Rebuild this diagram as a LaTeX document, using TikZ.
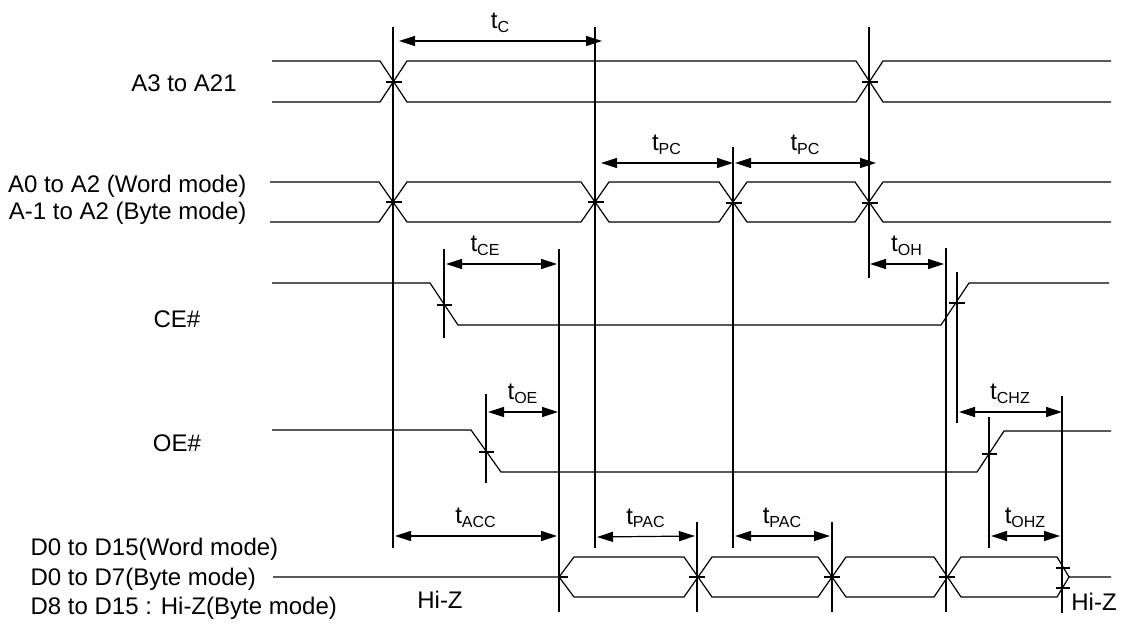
\documentclass[tikz,border=0pt]{standalone}
\usepackage{fontspec}
\setmainfont{Liberation Sans}
\usetikzlibrary{arrows.meta}
\newcommand{\tsub}[1]{t\textsubscript{#1}}

\begin{document}
\begin{tikzpicture}[x=0.5pt, y=-0.5pt, line width=0.6pt,
    wave/.style={line join=miter},
    dim/.style={{Triangle[length=8pt,width=5pt]}-{Triangle[length=8pt,width=5pt]}},
    sig/.style={font=\fontsize{12}{14}\selectfont, inner sep=0pt},
    tlab/.style={font=\fontsize{12}{14}\selectfont, midway, above=3pt, inner sep=1pt}]
      \useasboundingbox (0,0) rectangle (1127,624);

      \node[sig] (a3) at (184,83) {A3 to A21};
      \node[sig, anchor=east] (a0w) at (247,186) {A0 to A2 (Word mode)};
      \node[sig, anchor=east] (a0b) at (247,213) {A-1 to A2 (Byte mode)};
      \node[sig] (ce) at (177,319) {CE\#};
      \node[sig] (oe) at (177,443) {OE\#};
      \node[sig, anchor=west] (dw) at (30,549) {D0 to D15(Word mode)};
      \node[sig, anchor=west] (db) at (30,579) {D0 to D7(Byte mode)};
      \node[sig, anchor=west] (dz) at (30,608) {D8 to D15 : Hi-Z(Byte mode)};
      \node[sig] (hz1) at (440,600) {Hi-Z};
      \node[sig] (hz2) at (1094,602) {Hi-Z};

      \draw[wave] (272,61) -- (380,61) -- (407,102) -- (856,102) -- (883,61) -- (1111,61);
      \draw[wave] (272,102) -- (380,102) -- (407,61) -- (856,61) -- (883,102) -- (1111,102);
      \draw (386,82) -- (402,82);
      \draw (862,82) -- (878,82);

      \draw[wave] (270,182) -- (379,182) -- (407,222) -- (581,222) -- (609,182) -- (719,182) -- (747,222) -- (855,222) -- (883,182) -- (1111,182);
      \draw[wave] (270,222) -- (379,222) -- (407,182) -- (581,182) -- (609,222) -- (719,222) -- (747,182) -- (855,182) -- (883,222) -- (1111,222);
      \draw (386,202) -- (402,202);
      \draw (588,202) -- (604,202);
      \draw (726,203) -- (742,203);
      \draw (862,203) -- (878,203);

      \draw[wave] (272,283) -- (430,283) -- (458,325) -- (941,325) -- (969,283) -- (1109,283);
      \draw (437,305) -- (452,305);
      \draw (949,303) -- (965,303);

      \draw[wave] (272,430) -- (471,430) -- (501,472) -- (977,472) -- (1004,431) -- (1111,431);
      \draw (479,452) -- (494,452);
      \draw (982,454) -- (997,454);

      \draw[wave] (273,577) -- (559,577) -- (574,557) -- (684,557) -- (712,597) -- (818,597) -- (846,557) -- (934,557) -- (961,597) -- (1057,597) -- (1069,577) -- (1111,577);
      \draw[wave] (559,577) -- (574,597) -- (684,597) -- (712,557) -- (818,557) -- (846,597) -- (934,597) -- (961,557) -- (1057,557) -- (1069,577);
      \draw (559,577) -- (568,577);
      \draw (689,577) -- (705,577);
      \draw (824,577) -- (840,577);
      \draw (939,577) -- (955,577);
      \draw (1056,568) -- (1070,568);
      \draw (1056,588) -- (1070,588);

      \coordinate (g1a) at (393,27);   \coordinate (g1b) at (393,548);
      \coordinate (g2a) at (595,27);   \coordinate (g2b) at (595,548);
      \coordinate (g3a) at (733,147);  \coordinate (g3b) at (733,548);
      \coordinate (g4a) at (869,27);   \coordinate (g4b) at (869,278);
      \coordinate (g5a) at (444,249);  \coordinate (g5b) at (444,338);
      \coordinate (g6a) at (486,394);  \coordinate (g6b) at (486,483);
      \coordinate (g7a) at (559,249);  \coordinate (g7b) at (559,612);
      \coordinate (g8a) at (946,248);  \coordinate (g8b) at (946,612);
      \coordinate (g9a) at (957,272);  \coordinate (g9b) at (957,423);
      \coordinate (g10a) at (989,417); \coordinate (g10b) at (989,548);
      \coordinate (g11a) at (1062,396); \coordinate (g11b) at (1062,613);
      \coordinate (g12a) at (697,522); \coordinate (g12b) at (697,612);
      \coordinate (g13a) at (832,522); \coordinate (g13b) at (832,612);

      \draw (g1a) -- (g1b);
      \draw (g2a) -- (g2b);
      \draw (g3a) -- (g3b);
      \draw (g4a) -- (g4b);
      \draw (g5a) -- (g5b);
      \draw (g6a) -- (g6b);
      \draw (g7a) -- (g7b);
      \draw (g8a) -- (g8b);
      \draw (g9a) -- (g9b);
      \draw (g10a) -- (g10b);
      \draw (g11a) -- (g11b);
      \draw (g12a) -- (g12b);
      \draw (g13a) -- (g13b);

      \coordinate (tc1) at (399,41);    \coordinate (tc2) at (602,41);
      \coordinate (tpa1) at (601,163);  \coordinate (tpa2) at (733,163);
      \coordinate (tpb1) at (735,163);  \coordinate (tpb2) at (876,163);
      \coordinate (tce1) at (446,264);  \coordinate (tce2) at (557,264);
      \coordinate (toh1) at (870,264);  \coordinate (toh2) at (944,264);
      \coordinate (toe1) at (488,412);  \coordinate (toe2) at (558,412);
      \coordinate (tchz1) at (959,412); \coordinate (tchz2) at (1062,412);
      \coordinate (tacc1) at (395,536); \coordinate (tacc2) at (557,536);
      \coordinate (tpac1) at (597,537); \coordinate (tpac2) at (695,536);
      \coordinate (tpad1) at (735,536); \coordinate (tpad2) at (830,536);
      \coordinate (tohz1) at (991,536); \coordinate (tohz2) at (1060,536);

      \draw[dim] (tc1) -- (tc2) node[tlab] (ltc) {\tsub{C}};
      \draw[dim] (tpa1) -- (tpa2) node[tlab] (ltpa) {\tsub{PC}};
      \draw[dim] (tpb1) -- (tpb2) node[tlab] (ltpb) {\tsub{PC}};
      \draw[dim] (tce1) -- (tce2) node[tlab, xshift=-8pt] (ltce) {\tsub{CE}};
      \draw[dim] (toh1) -- (toh2) node[tlab] (ltoh) {\tsub{OH}};
      \draw[dim] (toe1) -- (toe2) node[tlab] (ltoe) {\tsub{OE}};
      \draw[dim] (tchz1) -- (tchz2) node[tlab] (ltchz) {\tsub{CHZ}};
      \draw[dim] (tacc1) -- (tacc2) node[tlab] (ltacc) {\tsub{ACC}};
      \draw[dim] (tpac1) -- (tpac2) node[tlab] (ltpac) {\tsub{PAC}};
      \draw[dim] (tpad1) -- (tpad2) node[tlab] (ltpad) {\tsub{PAC}};
      \draw[dim] (tohz1) -- (tohz2) node[tlab] (ltohz) {\tsub{OHZ}};
    \end{tikzpicture}
\end{document}
